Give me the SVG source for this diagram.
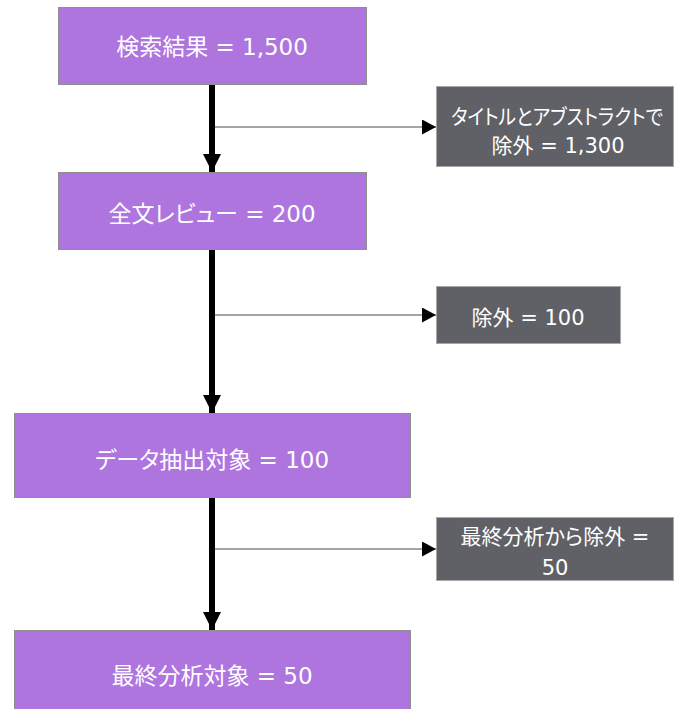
<svg xmlns="http://www.w3.org/2000/svg" width="674" height="709" viewBox="0 0 674 709">
<style>
.p{fill:#AE75DF;stroke:#8E8E8E;stroke-width:1}
.g{fill:#5F6166;stroke:#A8A8A8;stroke-width:1}
.t{fill:#FFFFFF;font-family:"DejaVu Sans","Noto Sans CJK JP",sans-serif;font-feature-settings:"palt";text-anchor:middle}
.tp{font-size:23px}
.tg{font-size:21px}
.main{stroke:#000;stroke-width:6;fill:none}
.br{stroke:#4A4A4A;stroke-width:1;fill:none}
</style>
<defs>
<marker id="big" markerUnits="userSpaceOnUse" markerWidth="18" markerHeight="18" refX="18" refY="9" orient="auto">
<path d="M0,0 L18,9 L0,18 Z" fill="#000"/>
</marker>
<marker id="small" markerUnits="userSpaceOnUse" markerWidth="14" markerHeight="15" refX="14" refY="7.5" orient="auto">
<path d="M0,0 L14,7.5 L0,15 Z" fill="#000"/>
</marker>
</defs>
<g id="connectors">
<path class="main" d="M212,84 V172" marker-end="url(#big)"/>
<path class="main" d="M212,249 V413" marker-end="url(#big)"/>
<path class="main" d="M212,497 V630" marker-end="url(#big)"/>
<path class="br" d="M215,127 H436" marker-end="url(#small)"/>
<path class="br" d="M215,315 H436" marker-end="url(#small)"/>
<path class="br" d="M215,549 H436" marker-end="url(#small)"/>
</g>
<g id="n1"><rect class="p" x="58.5" y="7.5" width="308" height="77"/><text class="t tp" x="212" y="55">検索結果 = 1,500</text></g>
<g id="n2"><rect class="p" x="58.5" y="172.5" width="308" height="77"/><text class="t tp" x="212" y="222">全文レビュー = 200</text></g>
<g id="n3"><rect class="p" x="14.5" y="413.5" width="396" height="84"/><text class="t tp" x="212" y="468">データ抽出対象 = 100</text></g>
<g id="n4"><rect class="p" x="14.5" y="630.5" width="396" height="84"/><text class="t tp" x="212" y="684">最終分析対象 = 50</text></g>
<g id="e1"><rect class="g" x="436.5" y="86.5" width="237" height="80"/><text class="t tg" x="451" y="124" style="text-anchor:start" textLength="212" lengthAdjust="spacingAndGlyphs">タイトルとアブストラクトで</text><text class="t tg" x="558" y="153">除外 = 1,300</text></g>
<g id="e2"><rect class="g" x="436.5" y="286.5" width="184" height="57"/><text class="t tg" x="528" y="325">除外 = 100</text></g>
<g id="e3"><rect class="g" x="436.5" y="517.5" width="237" height="63"/><text class="t tg" x="555" y="544">最終分析から除外 =</text><text class="t tg" x="555" y="575">50</text></g>
</svg>
